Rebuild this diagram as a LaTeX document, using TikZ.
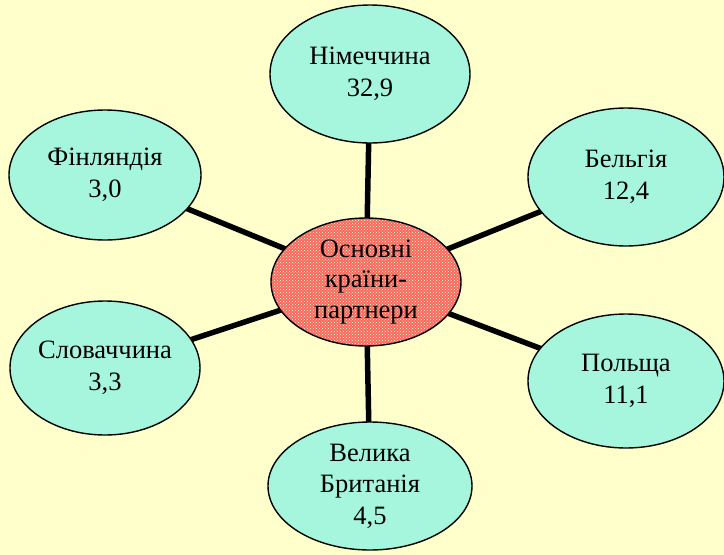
\documentclass[tikz,border=0pt]{standalone}
\usepackage{fontspec}
\setmainfont{Liberation Serif}
\newfontfamily\uaserif{Liberation Serif}
\usetikzlibrary{shapes.geometric,patterns,backgrounds}
\definecolor{bgyellow}{RGB}{255,255,204}
\definecolor{aqua}{RGB}{166,246,222}
\definecolor{hubred}{RGB}{248,104,96}
\tikzset{
  country/.style={ellipse, draw=black, line width=1.4pt, fill=aqua,
    minimum width=196pt, minimum height=132pt, inner sep=0pt,
    align=center, font=\uaserif\fontsize{26.5}{31.5}\selectfont},
  hub/.style={ellipse, draw=black, line width=1.4pt,
    preaction={fill=hubred},
    pattern=crosshatch dots, pattern color=bgyellow,
    minimum width=190pt, minimum height=128pt, inner sep=0pt},
  hubtext/.style={align=center, font=\uaserif\fontsize{26.5}{30.5}\selectfont},
  spoke/.style={line width=5.5pt, black}
}
\begin{document}
\begin{tikzpicture}[x=1pt,y=-1pt]
\useasboundingbox (0,0) rectangle (724,555);
\node[hub] (c) at (366,282) {};
\node[country, minimum width=200pt, minimum height=138pt] (de) at (370,74) {Німеччина\\32,9};
\node[country, minimum width=192pt, minimum height=130pt] (fi) at (105,175) {Фінляндія\\3,0};
\node[country, minimum width=196pt, minimum height=138pt] (be) at (626,177) {Бельгія\\12,4};
\node[country, minimum width=190pt, minimum height=134pt] (sk) at (105,368) {Словаччина\\3,3};
\node[country, minimum width=196pt, minimum height=134pt] (pl) at (626,381) {Польща\\11,1};
\node[country, minimum width=204pt, minimum height=128pt] (uk) at (370,486) {Велика\\Британія\\4,5};
\node[hubtext] (ct) at (c) {Основні\\країни-\\партнери};
\begin{scope}[on background layer]
\fill[bgyellow] (0,0) rectangle (724,555);
\foreach \n in {de,fi,be,sk,pl,uk} \draw[spoke] (c.center) -- (\n.center);
\end{scope}
\end{tikzpicture}
\end{document}
